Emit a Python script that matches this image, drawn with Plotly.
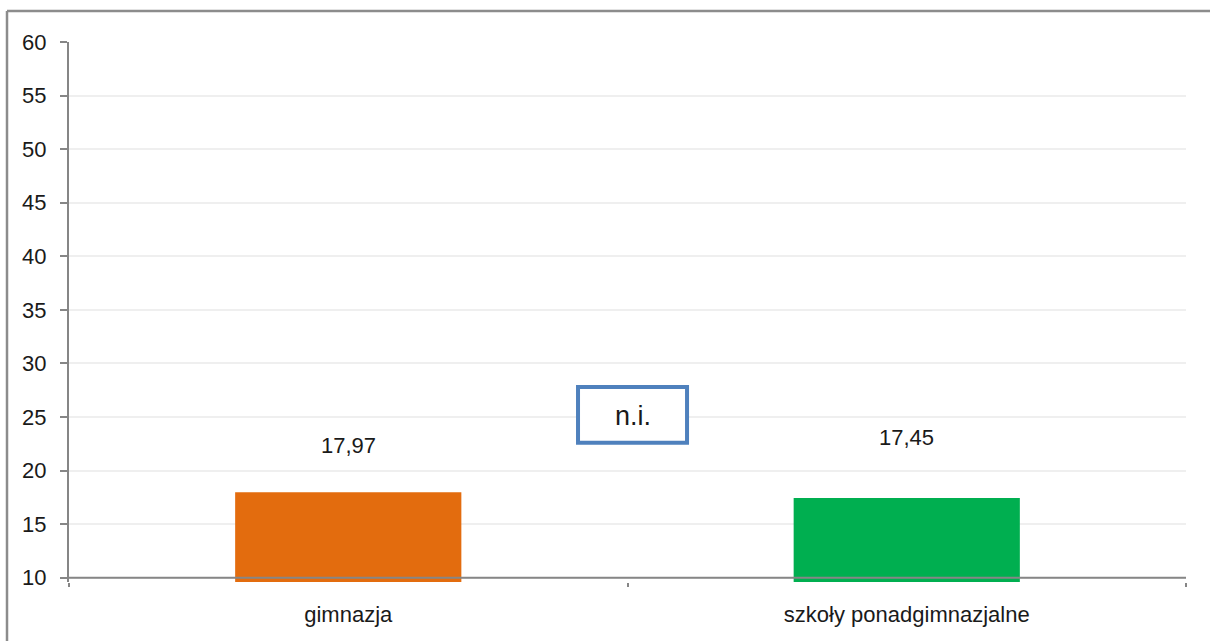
import plotly.graph_objects as go

categories = ["gimnazja", "szkoły ponadgimnazjalne"]
values = [17.97, 17.45]
bar_colors = ["#E36C0E", "#00AF50"]
label_texts = ["17,97", "17,45"]
y_ticks = [10, 15, 20, 25, 30, 35, 40, 45, 50, 55, 60]

FONT = "Liberation Sans, Arial, sans-serif"
TXT = "#1a1a1a"
AXIS = "#868686"

fig = go.Figure()
fig.add_trace(go.Bar(
    x=categories, y=values, base=0,
    marker=dict(color=bar_colors, line=dict(width=0)),
    width=0.405, hoverinfo="skip",
))

label_y = [22.3, 23.1]
for c, t, ly in zip(categories, label_texts, label_y):
    fig.add_annotation(x=c, y=ly, text=t, showarrow=False,
                       font=dict(family=FONT, size=22, color=TXT),
                       xanchor="center", yanchor="middle")

# x axis line at y = 10
fig.add_shape(type="line", xref="paper", yref="y", x0=0, x1=1, y0=10, y1=10,
              line=dict(color=AXIS, width=2), layer="above")
# n.i. box
fig.add_shape(type="rect", xref="paper", yref="y", x0=0.4557, x1=0.5533,
              y0=22.6, y1=27.8, line=dict(color="#4F81BD", width=4),
              fillcolor="white", layer="above")
fig.add_annotation(xref="paper", yref="y", x=0.5045, y=25.1, text="n.i.",
                   showarrow=False, font=dict(family=FONT, size=27, color=TXT))
# outer frame (top and left edges)
fig.add_shape(type="line", xref="paper", yref="paper", x0=-0.0555, x1=1.1,
              y0=1.0574, y1=1.0574, line=dict(color="#8c8c8c", width=2.5), layer="above")
fig.add_shape(type="line", xref="paper", yref="paper", x0=-0.0555, x1=-0.0555,
              y0=-0.2, y1=1.0574, line=dict(color="#8c8c8c", width=2.5), layer="above")

fig.update_layout(
    width=1210, height=641,
    margin=dict(l=69, r=24, t=42, b=59),
    paper_bgcolor="white", plot_bgcolor="white",
    showlegend=False,
    font=dict(family=FONT, size=22, color=TXT),
    xaxis=dict(
        type="category", showline=False, showgrid=False,
        tickson="boundaries", ticks="outside", ticklen=4, tickwidth=2,
        tickcolor=AXIS, tickfont=dict(family=FONT, size=22, color=TXT),
        ticklabelstandoff=17,
        zeroline=False,
    ),
    yaxis=dict(
        range=[9.6, 60], tickvals=y_ticks, ticktext=[str(v) for v in y_ticks],
        showline=True, linecolor=AXIS, linewidth=2,
        showgrid=True, gridcolor="#EFEFEF", gridwidth=2,
        ticks="outside", ticklen=7, tickwidth=2, tickcolor=AXIS,
        tickfont=dict(family=FONT, size=22, color=TXT),
        ticklabelstandoff=9,
        zeroline=False,
    ),
)

fig.write_html("out.html", config={"displayModeBar": False},
               post_script="document.body.style.margin='0';")
